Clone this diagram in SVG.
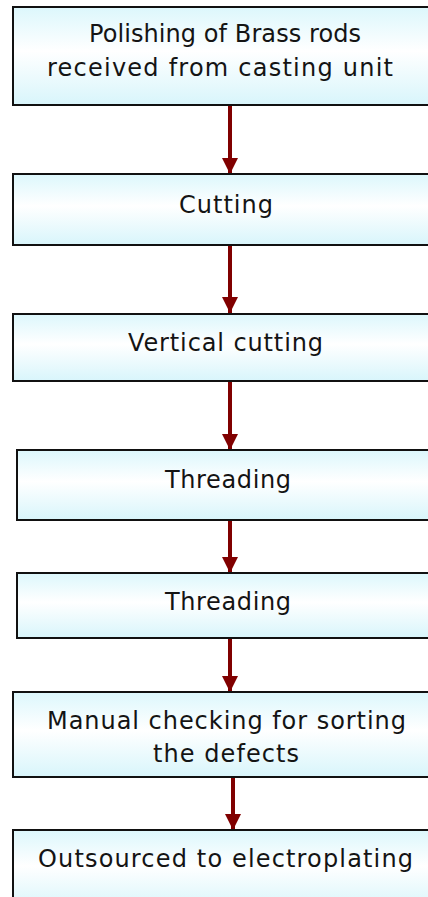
<svg xmlns="http://www.w3.org/2000/svg" width="428" height="897" viewBox="0 0 428 897">
  <defs>
    <linearGradient id="boxFill" x1="0" y1="0" x2="0" y2="1">
      <stop offset="0" stop-color="#dcf7fc"/>
      <stop offset="0.45" stop-color="#ffffff"/>
      <stop offset="1" stop-color="#d8f5fb"/>
    </linearGradient>
    <marker id="arrowHead" viewBox="0 0 16 16" refX="16" refY="8" markerWidth="16" markerHeight="16" markerUnits="userSpaceOnUse" orient="auto">
      <path d="M0,0 L16,8 L0,16 Z" fill="#800000"/>
    </marker>
  </defs>
  <style>
    .box { fill: url(#boxFill); stroke: #111111; stroke-width: 2; }
    .label { font-family: "DejaVu Sans", "Liberation Sans", sans-serif; font-size: 24px; fill: #141414; text-anchor: middle; }
    .conn { stroke: #800000; stroke-width: 4; fill: none; marker-end: url(#arrowHead); }
  </style>

  <rect width="428" height="897" fill="#ffffff"/>

  <!-- connectors between process steps -->
  <g id="connectors">
    <line class="conn" x1="230" y1="106" x2="230" y2="174"/>
    <line class="conn" x1="230" y1="246" x2="230" y2="313"/>
    <line class="conn" x1="230" y1="382" x2="230" y2="450"/>
    <line class="conn" x1="230" y1="521" x2="230" y2="573"/>
    <line class="conn" x1="230" y1="639" x2="230" y2="692"/>
    <line class="conn" x1="233" y1="778" x2="233" y2="830"/>
  </g>

  <g id="step-polishing">
    <rect class="box" x="13" y="7" width="430" height="98"/>
    <text class="label" x="225" y="42" textLength="272" lengthAdjust="spacing">Polishing of Brass rods</text>
    <text class="label" x="220" y="76" textLength="346" lengthAdjust="spacing">received from casting unit</text>
  </g>

  <g id="step-cutting">
    <rect class="box" x="13" y="174" width="430" height="71"/>
    <text class="label" x="226" y="213" textLength="94" lengthAdjust="spacing">Cutting</text>
  </g>

  <g id="step-vertical-cutting">
    <rect class="box" x="13" y="314" width="430" height="67"/>
    <text class="label" x="225.5" y="351" textLength="195" lengthAdjust="spacing">Vertical cutting</text>
  </g>

  <g id="step-threading-1">
    <rect class="box" x="17" y="450" width="430" height="70"/>
    <text class="label" x="228" y="488" textLength="126" lengthAdjust="spacing">Threading</text>
  </g>

  <g id="step-threading-2">
    <rect class="box" x="17" y="573" width="430" height="65"/>
    <text class="label" x="228" y="610" textLength="126" lengthAdjust="spacing">Threading</text>
  </g>

  <g id="step-manual-checking">
    <rect class="box" x="13" y="692" width="430" height="85"/>
    <text class="label" x="226.5" y="729" textLength="359" lengthAdjust="spacing">Manual checking for sorting</text>
    <text class="label" x="226" y="762" textLength="146" lengthAdjust="spacing">the defects</text>
  </g>

  <g id="step-electroplating">
    <rect class="box" x="13" y="830" width="430" height="80"/>
    <text class="label" x="225.5" y="867" textLength="375" lengthAdjust="spacing">Outsourced to electroplating</text>
  </g>
</svg>
